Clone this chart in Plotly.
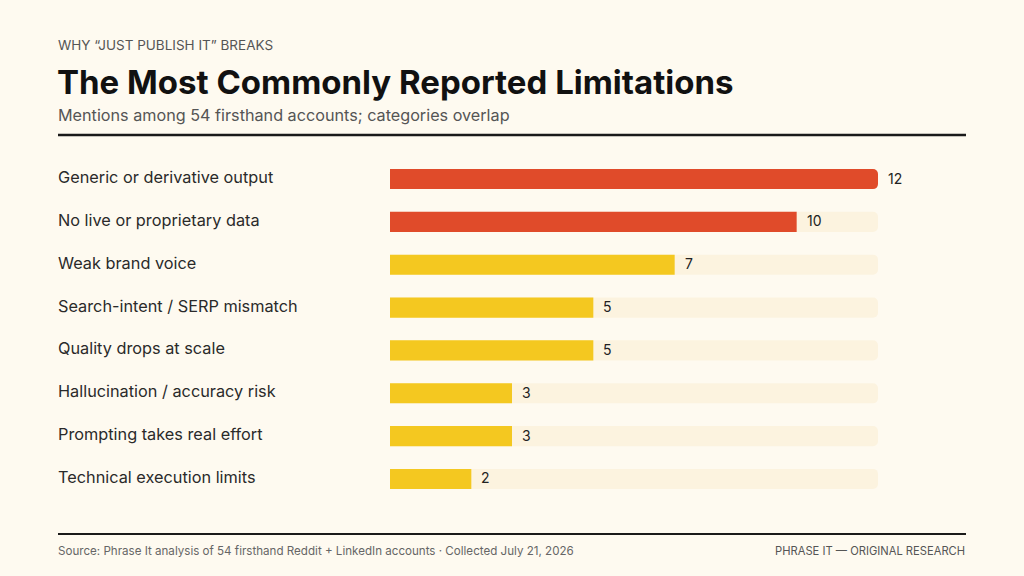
import plotly.graph_objects as go

categories = [
    "Generic or derivative output",
    "No live or proprietary data",
    "Weak brand voice",
    "Search-intent / SERP mismatch",
    "Quality drops at scale",
    "Hallucination / accuracy risk",
    "Prompting takes real effort",
    "Technical execution limits",
]
values = [12, 10, 7, 5, 5, 3, 3, 2]
highlight = [True, True, False, False, False, False, False, False]
max_value = 12

W, H = 1024, 576
BG = "#FEFAF0"
RED = "#E04B2A"
YELLOW = "#F4C820"
TRACK = "#FCF3DF"
FONT = "Inter, Lato, sans-serif"

x0_px, x1_px = 390, 878
row_top, row_bot = 157.6, 500.4

fig = go.Figure()
fig.add_trace(go.Bar(
    y=categories, x=[max_value] * len(categories), orientation="h",
    marker=dict(color=TRACK, cornerradius=5, line=dict(width=0)),
    width=0.47, hoverinfo="skip", showlegend=False,
))
fig.add_trace(go.Bar(
    y=categories, x=values, orientation="h",
    marker=dict(color=[RED if h else YELLOW for h in highlight], cornerradius=5, line=dict(width=0)),
    width=0.47, showlegend=False,
))

for c, v in zip(categories, values):
    fig.add_annotation(x=v, y=c, xref="x", yref="y", text=str(v), showarrow=False,
                       xanchor="left", xshift=8, yshift=1, font=dict(family=FONT, size=14, color="#222"))
    fig.add_annotation(x=56 / W, y=c, xref="paper", yref="y", text=c, showarrow=False,
                       xanchor="left", yshift=2, font=dict(family=FONT, size=16.3, color="#2A2A2A"))

def px(y):
    return 1 - y / H

texts = [
    (56, 45, "WHY “JUST PUBLISH IT” BREAKS", 13.5, "#555", "left"),
    (55, 82, "<b>The Most Commonly Reported Limitations</b>", 33, "#111", "left"),
    (56, 115, "Mentions among 54 firsthand accounts; categories overlap", 16.2, "#555", "left"),
    (56, 551, "Source: Phrase It analysis of 54 firsthand Reddit + LinkedIn accounts · Collected July 21, 2026", 11.6, "#666", "left"),
    (967, 551, "PHRASE IT — ORIGINAL RESEARCH", 11.2, "#555", "right"),
]
for x, y, t, s, col, anc in texts:
    fig.add_annotation(x=x / W, y=px(y), xref="paper", yref="paper", text=t, showarrow=False,
                       xanchor=anc, yanchor="middle", font=dict(family=FONT, size=s, color=col))

for y, wdt in [(135, 2.5), (534, 2)]:
    fig.add_shape(type="line", xref="paper", yref="paper", x0=58 / W, x1=966 / W,
                  y0=px(y), y1=px(y), line=dict(color="#1A1A1A", width=wdt))

fig.update_layout(
    width=W, height=H, barmode="overlay",
    paper_bgcolor=BG, plot_bgcolor=BG,
    margin=dict(l=0, r=0, t=0, b=0),
    xaxis=dict(domain=[x0_px / W, x1_px / W], range=[0, max_value], visible=False, fixedrange=True),
    yaxis=dict(domain=[1 - row_bot / H, 1 - row_top / H], autorange="reversed",
               visible=False, fixedrange=True),
    font=dict(family=FONT),
)

fig.write_html("out.html", config={"displayModeBar": False})
